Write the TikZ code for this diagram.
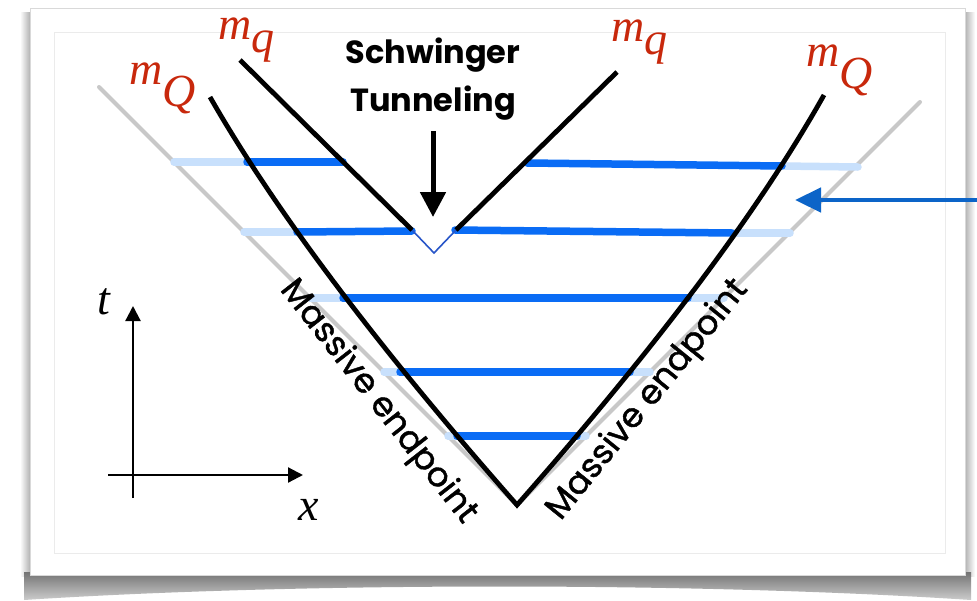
\documentclass[tikz,border=0pt]{standalone}
\usepackage{fontspec}
\setmainfont{Liberation Serif}
\setsansfont{Poppins}
\newfontfamily\endpointfont[FakeBold=1.2]{Poppins}
\usetikzlibrary{arrows.meta, shadings}

\definecolor{massred}{RGB}{200,40,12}
\definecolor{stringblue}{RGB}{10,108,245}
\definecolor{faintblue}{RGB}{200,224,252}
\definecolor{arrowblue}{RGB}{12,100,200}
\definecolor{tunnelblue}{RGB}{40,85,200}
\definecolor{conegray}{RGB}{200,200,200}

\begin{document}
\begin{tikzpicture}[x=1pt, y=-1pt, font=\sffamily,
  string/.style={stringblue, line width=7.5pt, line cap=round},
  faint/.style={faintblue, line width=7.5pt, line cap=round},
  worldline/.style={black, line width=4.8pt},
  masslabel/.style={massred, inner sep=0pt, font=\rmfamily\itshape\fontsize{46}{50}\selectfont},
  endlabel/.style={inner sep=0pt, font=\endpointfont\fontsize{34}{40}\selectfont}]

  \useasboundingbox (0,0) rectangle (977,600);

  % Card with its shadow.
  \fill[white] (0,0) rectangle (977,600);
  \shade[left color=white, right color=black!30] (20,12) rectangle (30,576);
  \shade[left color=black!30, right color=white] (965,12) rectangle (975,576);
  \shade[top color=black!55, bottom color=black!20]
    (24,572) -- (971,572) -- (971,600) .. controls (700,582) and (300,582) .. (24,600) -- cycle;
  \draw[black!15, fill=white] (30,8) rectangle (965,575);
  \draw[black!8, line width=1pt] (54,32) rectangle (945,553);

  % Light cone from the origin.
  \coordinate (origin) at (517,505);
  \draw[conegray, line width=4pt, line cap=round] (99,87) -- (origin) -- (920,102);

  % Strings: faint part out to the light cone, full part between the endpoints.
  \draw[faint] (174,162) -- (247,162);
  \draw[faint] (782,166) -- (858,167);
  \draw[faint] (244,232) -- (297,232);
  \draw[faint] (732,233) -- (790,233);
  \draw[string] (247,162) -- (343,162);
  \draw[string] (527,163) -- (782,166);
  \draw[string] (297,232) -- (412,231);
  \draw[string] (455,230) -- (732,233);
  \foreach \y/\xl/\xr in {298/343/688, 372/400/630, 436/457/577} {
    \draw[faint] ({517-(505-\y)},\y) -- ({517+(505-\y)},\y);
    \draw[string] (\xl,\y) -- (\xr,\y);
  }

  % Pair creation.
  \draw[tunnelblue, line width=1.6pt] (412,230) -- (434,253) -- (456,230);

  % Worldlines of the endpoints.
  \draw[worldline] (210,97) .. controls (274,209) and (376,345) .. (origin)
    .. controls (658,345) and (760,209) .. (824,95);
  \draw[worldline] (240,60) -- (412,230);
  \draw[worldline] (617,72) -- (456,230);

  % Masses.
  \node[masslabel] (mqleft) at (247,40) {m$_{\textit{q}}$};
  \node[masslabel] (mqright) at (640,42) {m$_{\textit{q}}$};
  \node[masslabel] (mQleft) at (163,88) {m$_{\textit{Q}}$};
  \node[masslabel] (mQright) at (840,70) {m$_{\textit{Q}}$};

  % Schwinger tunneling annotation.
  \node[font=\sffamily\bfseries\fontsize{32}{48}\selectfont, align=center]
    (tunnel) at (433,79) {Schwinger\\Tunneling};
  \coordinate (tunneltip) at (433,217);
  \draw[-{Triangle[length=25pt, width=25pt]}, line width=5pt]
    (433,131) -- (tunneltip);

  % Arrow from the right towards the light cone.
  \coordinate (conepoint) at (795,200);
  \draw[arrowblue, -{Triangle[length=26pt, width=24pt]}, line width=4.5pt]
    (977,200) -- (conepoint);

  % Endpoint labels.
  \node[endlabel, rotate=-52] (endleft) at (378,402) {Massive endpoint};
  \node[endlabel, rotate=51] (endright) at (648,400) {Massive endpoint};

  % Axes.
  \coordinate (tend) at (133,306);
  \coordinate (xend) at (303,475);
  \draw[-{Triangle[length=15pt, width=15pt]}, line width=2.2pt] (133,498) -- (tend);
  \draw[-{Triangle[length=15pt, width=15pt]}, line width=2.2pt] (108,475) -- (xend);
  \node[masslabel, text=black] (tlabel) at (104,302) {t};
  \node[masslabel, text=black] (xlabel) at (309,510) {x};

\end{tikzpicture}
\end{document}
